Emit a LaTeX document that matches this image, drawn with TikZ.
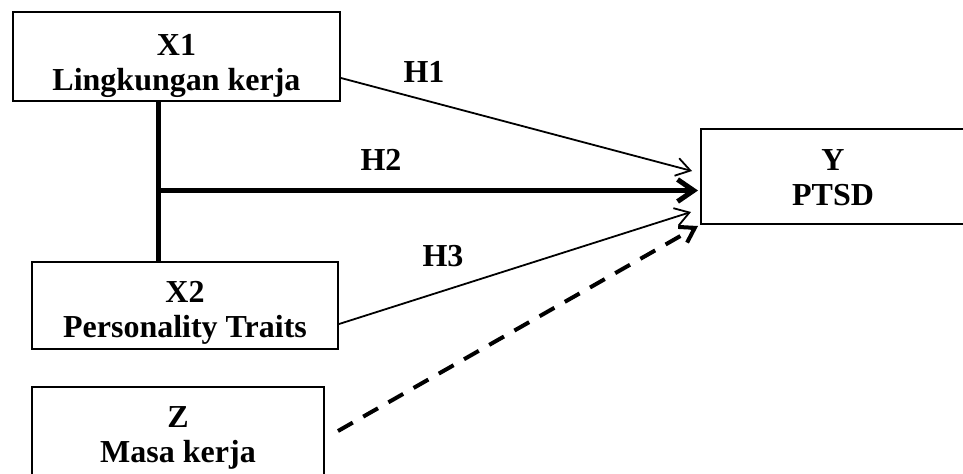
\documentclass[tikz,border=0pt]{standalone}
\usepackage{fontspec}
\setmainfont{Liberation Serif}
\usetikzlibrary{arrows.meta}

\begin{document}
\begin{tikzpicture}[x=0.5pt, y=-0.5pt,
    kotak/.style={draw, line width=1pt, inner sep=0pt},
    teks/.style={align=center, inner sep=0pt, font=\fontsize{16}{17.5}\selectfont\bfseries},
    tipis/.style={line width=0.9pt, -{Straight Barb[length=7pt, width=9pt]}},
    tebal/.style={line width=2.5pt},
    putus/.style={line width=2pt, dash pattern=on 8.5pt off 6pt, -{Straight Barb[length=7pt, width=9pt]}}]
      \clip (0, 0) rectangle (963, 473);
      % kotak variabel
      \node[kotak, minimum width=163.5pt, minimum height=44.5pt] (x1) at (176.5, 56.5) {};
      \node[kotak, minimum width=153pt, minimum height=43.5pt] (x2) at (185, 305.5) {};
      \node[kotak, minimum width=146pt, minimum height=44pt] (z) at (178, 431) {};
      \node[kotak, minimum width=140pt, minimum height=47.5pt, anchor=west] (y) at (700, 176.5) {};
      \node[teks] (x1t) at ([yshift=-4.5pt]x1.center) {X1\\Lingkungan kerja};
      \node[teks] (x2t) at ([yshift=-3.75pt]x2.center) {X2\\Personality Traits};
      \node[teks] (zt) at ([yshift=-3.5pt]z.center) {Z\\Masa kerja};
      \node[teks] (yt) at (833, 178) {Y\\PTSD};
      % hipotesis
      \node[teks] (h1) at (424, 72) {H1};
      \node[teks] (h2) at (381, 160) {H2};
      \node[teks] (h3) at (443, 256) {H3};
      \coordinate (j) at ([xshift=-9.25pt]x1.south);
      \coordinate (e2) at ([xshift=-1pt, yshift=-7pt]y.west);
      \draw[tebal] (j) -- (j |- x2.north);
      \draw[tebal, -{Straight Barb[length=8pt, width=11pt]}] (j |- e2) -- (e2);
      \draw[tipis] ([yshift=-10.75pt]x1.east) -- ([xshift=-4pt, yshift=2.75pt]y.west);
      \draw[tipis] ([yshift=-9.25pt]x2.east) -- ([xshift=-4.5pt, yshift=-17.75pt]y.west);
      \draw[putus] ([xshift=6.5pt]z.east) -- ([xshift=-1pt, yshift=-24.75pt]y.west);
    \end{tikzpicture}
\end{document}
